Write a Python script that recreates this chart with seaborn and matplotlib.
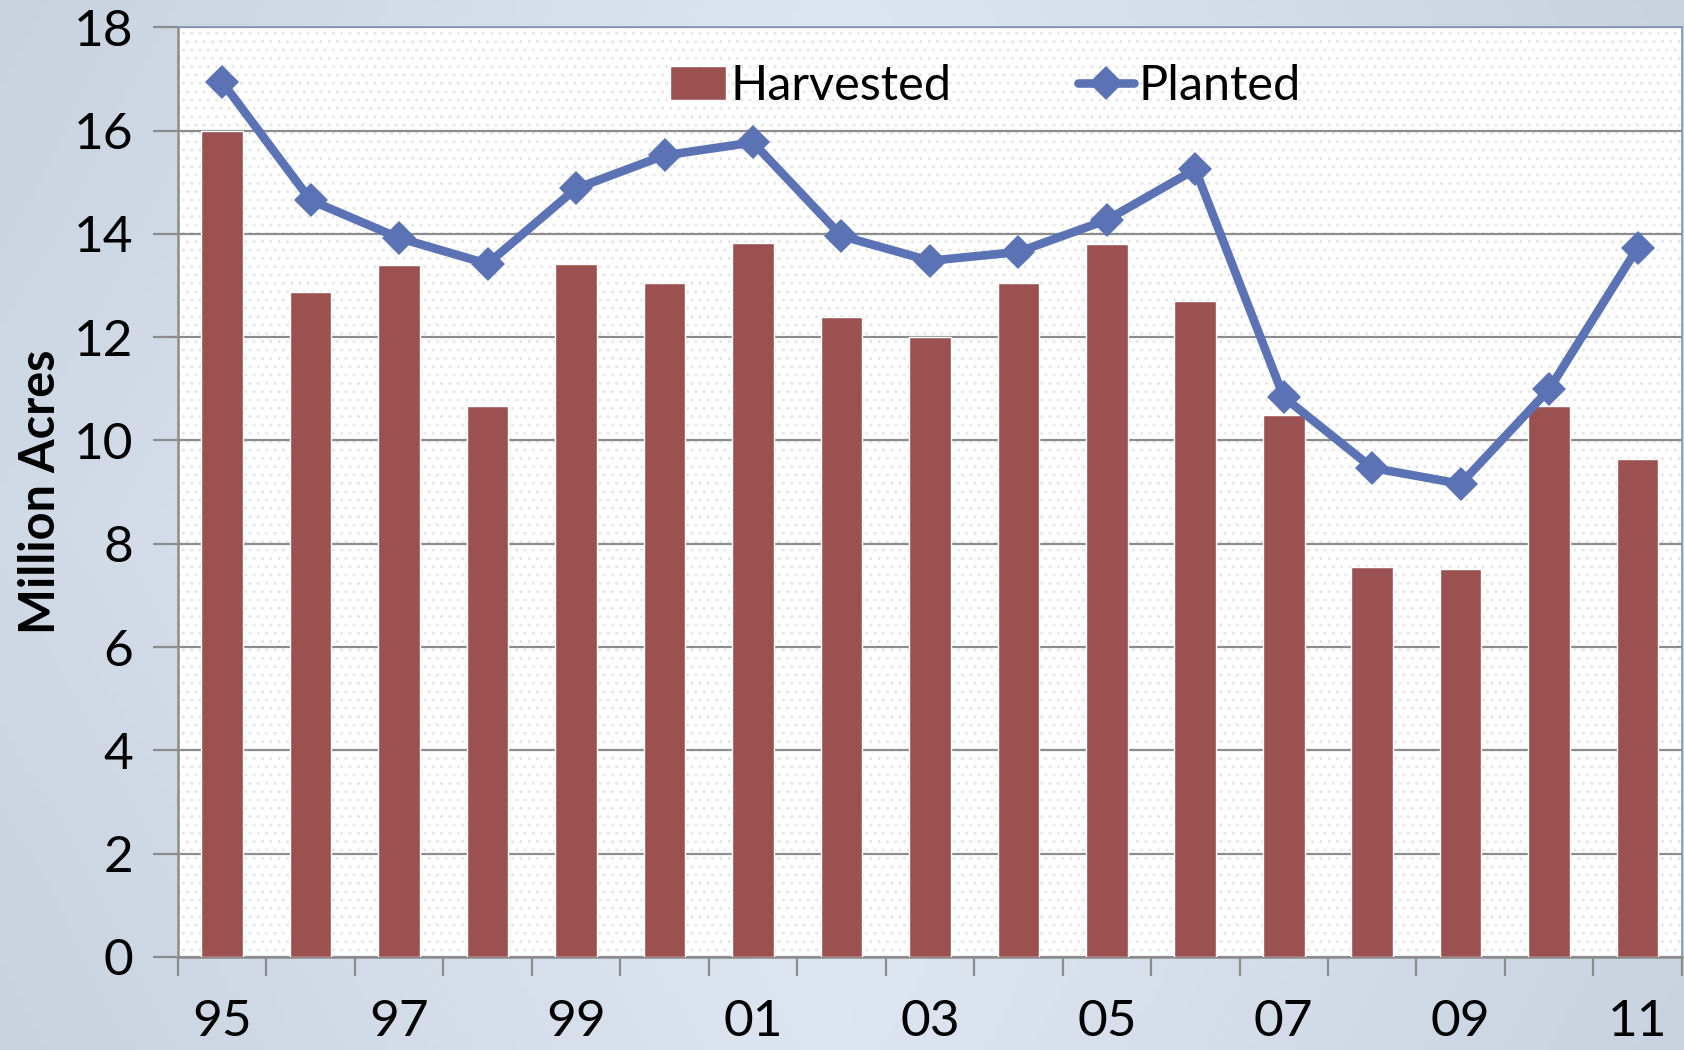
# Harvested vs planted acres, 1995-2011.
import numpy as np
import pandas as pd
import matplotlib.pyplot as plt
import seaborn as sns

# Data (million acres).
years = ["95", "96", "97", "98", "99", "00", "01", "02", "03", "04",
         "05", "06", "07", "08", "09", "10", "11"]
harvested = [16.0, 12.88, 13.4, 10.67, 13.42, 13.05, 13.82, 12.4, 12.0,
             13.05, 13.8, 12.71, 10.49, 7.55, 7.51, 10.67, 9.65]
planted = [16.94, 14.65, 13.92, 13.42, 14.88, 15.52, 15.77, 13.96, 13.48,
           13.65, 14.27, 15.25, 10.84, 9.47, 9.16, 10.99, 13.73]
shown_labels = ["95", "97", "99", "01", "03", "05", "07", "09", "11"]

df = pd.DataFrame({"year": years, "harvested": harvested,
                   "planted": planted, "pos": np.arange(len(years))})

sns.set_theme(style="white")
plt.rcParams["font.family"] = ["Lato", "DejaVu Sans"]
plt.rcParams["text.color"] = "black"
plt.rcParams["axes.labelcolor"] = "black"
plt.rcParams["xtick.color"] = "black"
plt.rcParams["ytick.color"] = "black"

BAR = "#9c5151"
LINE = "#5b73b4"
GRID = "#8c8c8c"

fig = plt.figure(figsize=(16.84, 10.5), dpi=100)

# Light gradient background behind everything.
bg = fig.add_axes([0, 0, 1, 1], zorder=-10)
gx, gy = np.meshgrid(np.linspace(0, 1, 200), np.linspace(0, 1, 200))
grad = 1 - np.abs(gx - 0.5) * 1.2 - np.abs(gy - 0.5) * 0.4
bg.imshow(grad, cmap=sns.blend_palette(["#c9d3e0", "#e3ebf5"], as_cmap=True),
          aspect="auto", extent=[0, 1, 0, 1])
bg.set_axis_off()

ax = fig.add_axes([0.1057, 0.0886, 0.893, 0.8854])
ax.set_facecolor("white")
ax.patch.set_hatch("..")
ax.patch.set_edgecolor("#e6e6e6")

sns.barplot(data=df, x="year", y="harvested", color=BAR, width=0.47,
            saturation=1, ax=ax, label="Harvested", zorder=3)
sns.lineplot(data=df, x="pos", y="planted", color=LINE, lw=6.2,
             marker="D", markersize=17, markeredgewidth=0, ax=ax,
             label="Planted", zorder=4)

ax.set_ylim(0, 18)
ax.set_xlim(-0.5, len(years) - 0.5)
ax.set_yticks(range(0, 19, 2))
ax.yaxis.grid(True, color=GRID, lw=1.6, zorder=0)
ax.set_axisbelow(True)

# Tick marks between categories, labels on every other year.
ax.set_xticks(np.arange(-0.5, len(years), 1))
ax.set_xticklabels([])
label_pos = [years.index(y) for y in shown_labels]
ax.set_xticks(label_pos, minor=True)
ax.set_xticklabels(shown_labels, minor=True)
ax.tick_params(axis="x", which="major", direction="out", length=14,
               width=1.6, color=GRID, bottom=True)
ax.tick_params(axis="x", which="minor", length=0, pad=30, labelsize=37,
               labelcolor="black")
ax.tick_params(axis="y", direction="out", length=18, width=1.6,
               color=GRID, left=True, labelsize=37, pad=14,
               labelcolor="black")

for side in ["left", "bottom"]:
    ax.spines[side].set_color(GRID)
    ax.spines[side].set_linewidth(1.8)
for side in ["top", "right"]:
    ax.spines[side].set_color("#7f95b5")
    ax.spines[side].set_linewidth(1.2)

ax.set_xlabel("")
ax.set_ylabel("Million Acres", fontsize=35, fontweight="bold", labelpad=8,
              color="black")

# Harvested first, as in the original legend.
handles, labels = ax.get_legend_handles_labels()
order = [labels.index("Harvested"), labels.index("Planted")]
ax.legend([handles[i] for i in order], [labels[i] for i in order],
          loc="upper center", bbox_to_anchor=(0.537, 1.008), ncol=2,
          frameon=False, fontsize=35, handlelength=1.15,
          handletextpad=0.1, columnspacing=2.6)

fig.savefig("out.png", dpi=100)
